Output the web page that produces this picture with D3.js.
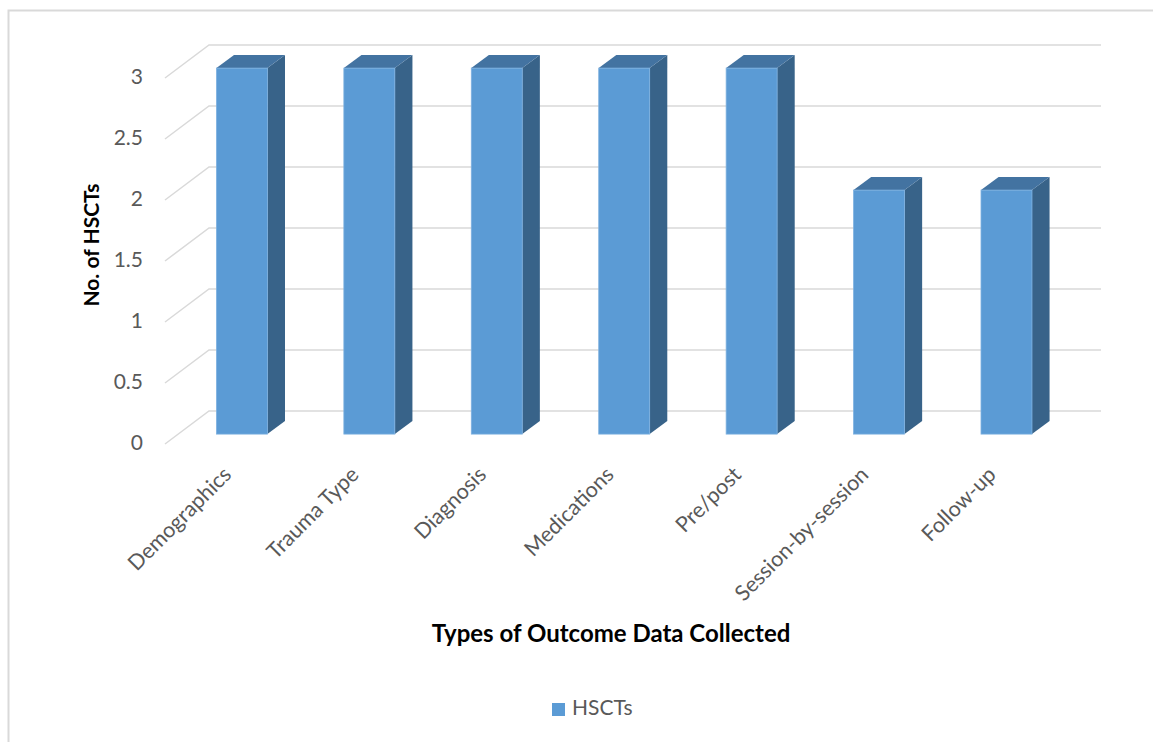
<!DOCTYPE html>
<html>
<head>
<meta charset="utf-8">
<script src="https://cdn.jsdelivr.net/npm/d3@7/dist/d3.min.js"></script>
<style>
  html, body { margin: 0; padding: 0; background: #ffffff; }
  svg { display: block; }
  text { font-family: Lato, "Open Sans", sans-serif; }
</style>
</head>
<body>
<svg id="chart" width="1153" height="742"></svg>
<script>
// Outcome data types collected by the HSCTs
const categories = ["Demographics", "Trauma Type", "Diagnosis", "Medications", "Pre/post", "Session-by-session", "Follow-up"];
const hscts = [3, 3, 3, 3, 3, 2, 2];
const yTicks = [0, 0.5, 1, 1.5, 2, 2.5, 3];
const seriesName = "HSCTs";
const xTitle = "Types of Outcome Data Collected";
const yTitle = "No. of HSCTs";

const svg = d3.select("#chart");

// Outer chart-area frame
svg.append("rect")
  .attr("x", 8.5).attr("y", 10.5)
  .attr("width", 1300).attr("height", 900)
  .attr("fill", "none").attr("stroke", "#d9d9d9").attr("stroke-width", 2);

// Oblique 3D frame: front-left floor corner and depth vector
const origin = { x: 165, y: 444 };
const depth = { x: 44, y: -33 };
const floorWidth = 892;
const barDepth = [0.3, 0.7];

const x = d3.scaleBand().domain(categories).range([0, floorWidth])
  .paddingInner(0.6).paddingOuter(0.3);
const y = d3.scaleLinear().domain([0, 3]).range([origin.y, origin.y - 366]);

// project (horizontal offset, value, depth fraction) to screen
function P(xu, v, d) {
  return [origin.x + xu + d * depth.x, y(v) + d * depth.y];
}

// Gridlines: back wall and left side wall
const grid = svg.append("g").attr("stroke", "#d9d9d9").attr("stroke-width", 1.5).attr("fill", "none");
yTicks.forEach(t => {
  const a = P(0, t, 0), b = P(0, t, 1), c = P(floorWidth, t, 1);
  grid.append("path").attr("d", `M${a}L${b}L${c}`);
});

// Y tick labels
svg.append("g").selectAll("text").data(yTicks).join("text")
  .attr("x", 143).attr("y", d => y(d) + 1)
  .attr("text-anchor", "end").attr("dominant-baseline", "middle")
  .attr("font-size", 21).attr("fill", "#595959")
  .text(d => d3.format("~g")(d));

// 3D bars
const bars = svg.append("g").selectAll("g").data(categories.map((c, i) => ({ c, v: hscts[i] }))).join("g");
const [d0, d1] = barDepth;
bars.each(function(d) {
  const g = d3.select(this);
  const xl = x(d.c), xr = x(d.c) + x.bandwidth();
  const poly = pts => pts.map(p => p.join(",")).join(" ");
  // side face
  g.append("polygon")
    .attr("points", poly([P(xr, d.v, d0), P(xr, d.v, d1), P(xr, 0, d1), P(xr, 0, d0)]))
    .attr("fill", "#386389");
  // top face
  g.append("polygon")
    .attr("points", poly([P(xl, d.v, d0), P(xr, d.v, d0), P(xr, d.v, d1), P(xl, d.v, d1)]))
    .attr("fill", "#4373a1");
  // front face
  const tl = P(xl, d.v, d0), br = P(xr, 0, d0);
  g.append("rect")
    .attr("x", tl[0]).attr("y", tl[1])
    .attr("width", br[0] - tl[0]).attr("height", br[1] - tl[1])
    .attr("fill", "#5b9bd5").attr("stroke", "#7eb1e0").attr("stroke-width", 0.8);
});

// Category labels along the front floor edge
svg.append("g").selectAll("text").data(categories).join("text")
  .attr("transform", d => `translate(${origin.x + x(d) + x.bandwidth() / 2 + 4},${476}) rotate(-45)`)
  .attr("text-anchor", "end")
  .attr("font-size", 21.5).attr("fill", "#595959")
  .text(d => d);

// Axis titles
svg.append("text")
  .attr("x", 611).attr("y", 642)
  .attr("text-anchor", "middle")
  .attr("font-size", 24).attr("font-weight", "bold").attr("fill", "#000")
  .text(xTitle);

svg.append("text")
  .attr("transform", "translate(99,245) rotate(-90)")
  .attr("text-anchor", "middle")
  .attr("font-size", 21).attr("font-weight", "bold").attr("fill", "#000")
  .text(yTitle);

// Legend
const legend = svg.append("g").attr("transform", "translate(552,703)");
legend.append("rect").attr("width", 13).attr("height", 13).attr("fill", "#5b9bd5");
legend.append("text").attr("x", 20).attr("y", 7).attr("dominant-baseline", "middle")
  .attr("font-size", 21).attr("fill", "#595959").text(seriesName);
</script>
</body>
</html>
